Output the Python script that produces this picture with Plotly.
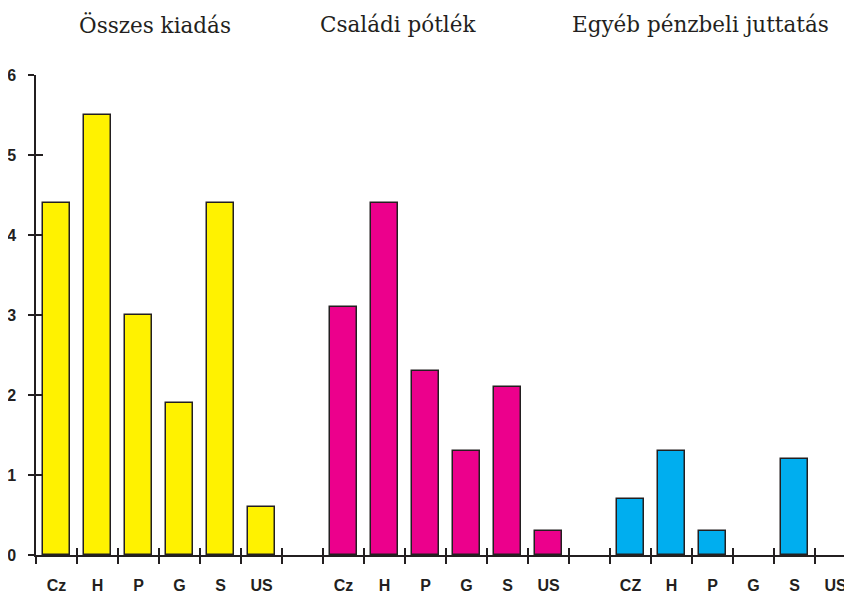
import plotly.graph_objects as go

groups = ["Összes kiadás", "Családi pótlék", "Egyéb pénzbeli juttatás"]
labels_1 = ["Cz", "H", "P", "G", "S", "US"]
labels_2 = ["Cz", "H", "P", "G", "S", "US"]
labels_3 = ["CZ", "H", "P", "G", "S", "US"]
osszes = [4.4, 5.5, 3.0, 1.9, 4.4, 0.6]
csaladi = [3.1, 4.4, 2.3, 1.3, 2.1, 0.3]
egyeb = [0.7, 1.3, 0.3, None, 1.2, None]
colors = ["#FFF200", "#EC008C", "#00AEEF"]
y_ticks = [0, 1, 2, 3, 4, 5, 6]

INK = "#231F20"
OFF = 8  # default page body margin
W, H = 852 - OFF, 594 - OFF
L, R, T, B = 36 - OFF, 0, 75 - OFF, 39
PW, PH = W - L - R, H - T - B
slot_px = 41
n_slots = PW / slot_px

fig = go.Figure()
all_labels = [labels_1, labels_2, labels_3]
all_vals = [osszes, csaladi, egyeb]
centers, texts = [], []
for g, (labs, vals, col) in enumerate(zip(all_labels, all_vals, colors)):
    xs = [g * 7 + i + 0.5 for i in range(len(labs))]
    centers += xs
    texts += labs
    fig.add_trace(go.Bar(x=xs, y=vals, width=0.66, marker=dict(color=col, line=dict(color=INK, width=1.5)),
                         showlegend=False, hoverinfo="skip"))

tick_x = list(range(0, 20))
tfont = dict(family="Liberation Sans", size=16, color=INK, weight="bold")
fig.update_layout(
    width=W, height=H, margin=dict(l=L, r=R, t=T, b=B, autoexpand=False),
    plot_bgcolor="white", paper_bgcolor="white", bargap=0,
    xaxis=dict(range=[0, n_slots], tickvals=tick_x, showticklabels=False, ticks="outside", ticklen=7,
               tickwidth=1.5, tickcolor=INK, showline=True, linecolor=INK, linewidth=1.5, showgrid=False,
               zeroline=False, fixedrange=True, automargin=False),
    xaxis2=dict(range=[0, n_slots], overlaying="x", side="bottom", tickvals=centers, ticktext=texts,
                ticks="", showline=False, showgrid=False, zeroline=False, ticklabelstandoff=19,
                tickfont=tfont, automargin=False),
    xaxis3=dict(range=[0, n_slots], overlaying="x", side="bottom", tickvals=tick_x, showticklabels=False,
                ticks="inside", ticklen=7, tickwidth=1.5, tickcolor=INK, showline=False, showgrid=False,
                zeroline=False, automargin=False),
    yaxis=dict(range=[0, 6], tickvals=y_ticks, ticks="outside", ticklen=6, tickwidth=1.5, tickcolor=INK,
               showline=True, linecolor=INK, linewidth=1.5, showgrid=False, zeroline=False,
               ticklabelstandoff=9, tickfont=tfont, automargin=False),
    yaxis2=dict(range=[0, 6], overlaying="y", tickvals=y_ticks, showticklabels=False, ticks="inside",
                ticklen=7, tickwidth=1.5, tickcolor=INK, showline=False, showgrid=False, zeroline=False,
                automargin=False),
)
fig.add_trace(go.Scatter(x=[None], y=[None], xaxis="x2", yaxis="y2", showlegend=False))
fig.add_trace(go.Scatter(x=[None], y=[None], xaxis="x3", yaxis="y2", showlegend=False))

title_centers_px = [155, 398, 700]
for name, cx in zip(groups, title_centers_px):
    fig.add_annotation(text=name, x=(cx - 36) / PW, y=1 + (75 - 25) / PH, xref="paper", yref="paper",
                       showarrow=False, xanchor="center", yanchor="middle",
                       font=dict(family="DejaVu Serif", size=21.5, color=INK))

fig.write_html("out.html")
